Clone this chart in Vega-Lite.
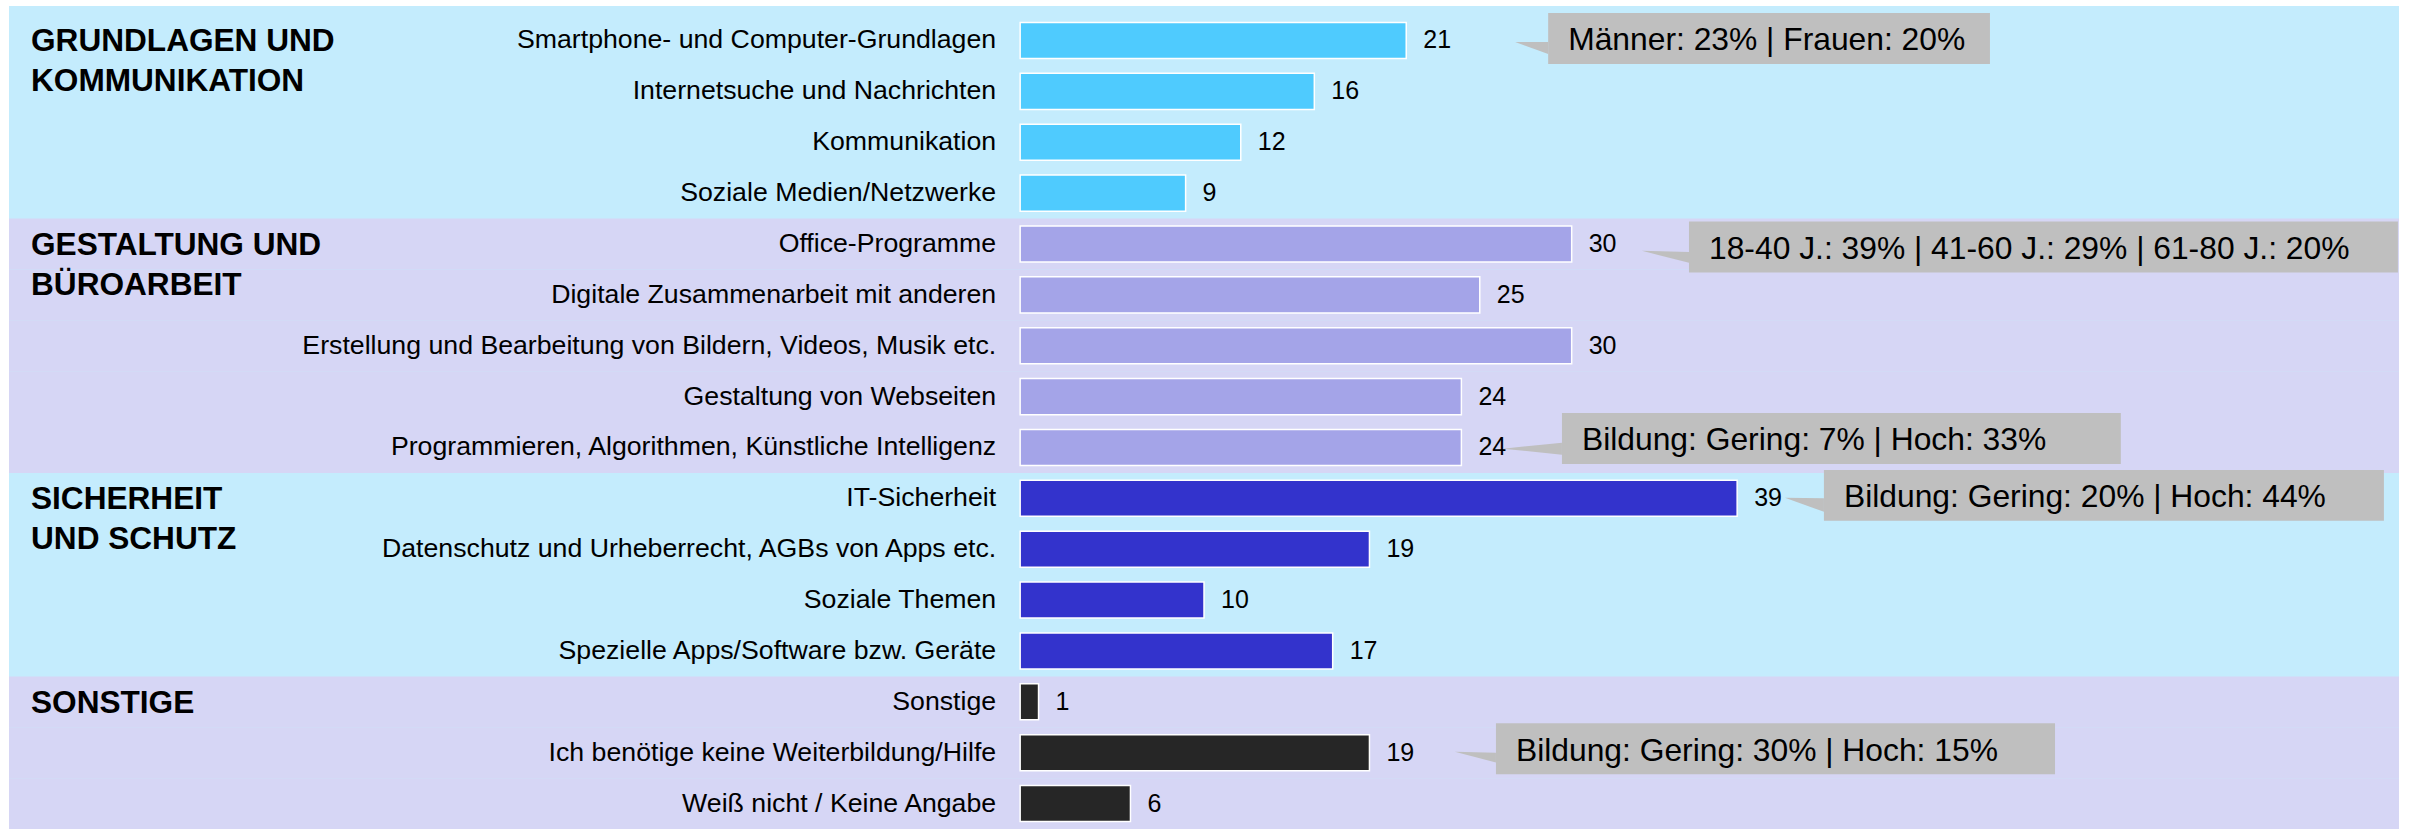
{
  "$schema": "https://vega.github.io/schema/vega-lite/v6.json",
  "width": 2390,
  "height": 823,
  "autosize": {"type": "none"},
  "padding": {"left": 9, "top": 6, "right": 11, "bottom": 0},
  "background": "#ffffff",
  "config": {"font": "Liberation Sans", "view": {"fill": "#C4ECFD", "stroke": null}},
  "datasets": {
    "items": [
      {"item": "Smartphone- und Computer-Grundlagen", "value": 21, "bereich": "Grundlagen"},
      {"item": "Internetsuche und Nachrichten", "value": 16, "bereich": "Grundlagen"},
      {"item": "Kommunikation", "value": 12, "bereich": "Grundlagen"},
      {"item": "Soziale Medien/Netzwerke", "value": 9, "bereich": "Grundlagen"},
      {"item": "Office-Programme", "value": 30, "bereich": "Gestaltung"},
      {"item": "Digitale Zusammenarbeit mit anderen", "value": 25, "bereich": "Gestaltung"},
      {"item": "Erstellung und Bearbeitung von Bildern, Videos, Musik etc.", "value": 30, "bereich": "Gestaltung"},
      {"item": "Gestaltung von Webseiten ", "value": 24, "bereich": "Gestaltung"},
      {"item": "Programmieren, Algorithmen, Künstliche Intelligenz", "value": 24, "bereich": "Gestaltung"},
      {"item": "IT-Sicherheit", "value": 39, "bereich": "Sicherheit"},
      {"item": "Datenschutz und Urheberrecht, AGBs von Apps etc.", "value": 19, "bereich": "Sicherheit"},
      {"item": "Soziale Themen", "value": 10, "bereich": "Sicherheit"},
      {"item": "Spezielle Apps/Software bzw. Geräte", "value": 17, "bereich": "Sicherheit"},
      {"item": "Sonstige", "value": 1, "bereich": "Sonstige"},
      {"item": "Ich benötige keine Weiterbildung/Hilfe", "value": 19, "bereich": "Sonstige"},
      {"item": "Weiß nicht / Keine Angabe", "value": 6, "bereich": "Sonstige"}
    ],
    "groups": [
      {"item": "Smartphone- und Computer-Grundlagen", "titel": "GRUNDLAGEN UND\nKOMMUNIKATION"},
      {"item": "Office-Programme", "titel": "GESTALTUNG UND\nBÜROARBEIT"},
      {"item": "IT-Sicherheit", "titel": "SICHERHEIT\nUND SCHUTZ"},
      {"item": "Sonstige", "titel": "SONSTIGE"}
    ]
  },
  "data": {"name": "items"},
  "encoding": {
    "y": {
      "field": "item",
      "type": "nominal",
      "sort": null,
      "axis": null,
      "scale": {
        "domain": [
          "Smartphone- und Computer-Grundlagen", "Internetsuche und Nachrichten", "Kommunikation", "Soziale Medien/Netzwerke",
          "Office-Programme", "Digitale Zusammenarbeit mit anderen", "Erstellung und Bearbeitung von Bildern, Videos, Musik etc.", "Gestaltung von Webseiten ", "Programmieren, Algorithmen, Künstliche Intelligenz",
          "IT-Sicherheit", "Datenschutz und Urheberrecht, AGBs von Apps etc.", "Soziale Themen", "Spezielle Apps/Software bzw. Geräte",
          "Sonstige", "Ich benötige keine Weiterbildung/Hilfe", "Weiß nicht / Keine Angabe"
        ],
        "paddingInner": 0,
        "paddingOuter": 0.0885,
        "align": 1
      }
    }
  },
  "layer": [
    {
      "transform": [{"filter": {"field": "bereich", "oneOf": ["Gestaltung", "Sonstige"]}}],
      "mark": {"type": "rect", "fill": "#D6D6F5"},
      "encoding": {
        "x": {"datum": -55, "type": "quantitative", "scale": {"domain": [-55, 75], "nice": false, "zero": false}, "axis": null},
        "x2": {"datum": 75}
      }
    },
    {
      "mark": {"type": "bar", "height": {"band": 0.71}, "stroke": "#ffffff", "strokeWidth": 1.5},
      "encoding": {
        "x": {"field": "value", "type": "quantitative", "axis": null},
        "x2": {"datum": 0},
        "color": {
          "field": "bereich",
          "type": "nominal",
          "legend": null,
          "scale": {"domain": ["Grundlagen", "Gestaltung", "Sicherheit", "Sonstige"], "range": ["#4FCBFE", "#A4A4E8", "#3333CC", "#262626"]}
        }
      }
    },
    {
      "mark": {"type": "text", "align": "right", "baseline": "middle", "dx": -24, "fontSize": 26.7, "color": "#000000"},
      "encoding": {
        "x": {"datum": 0, "type": "quantitative"},
        "text": {"field": "item"}
      }
    },
    {
      "mark": {"type": "text", "align": "left", "baseline": "middle", "dx": 17, "fontSize": 25, "color": "#000000"},
      "encoding": {
        "x": {"field": "value", "type": "quantitative"},
        "text": {"field": "value", "type": "quantitative"}
      }
    },
    {
      "data": {"name": "groups"},
      "mark": {"type": "text", "align": "left", "baseline": "alphabetic", "lineBreak": "\n", "lineHeight": 40, "dx": 22, "dy": 11, "fontSize": 31.6, "fontWeight": "bold", "color": "#000000"},
      "encoding": {
        "x": {"datum": -55, "type": "quantitative"},
        "text": {"field": "titel"}
      }
    },
    {
      "data": {"values": [{"item": "Smartphone- und Computer-Grundlagen", "note": "Männer: 23% | Frauen: 20%"}]},
      "layer": [
        {"mark": {"type": "rect", "fill": "#BFBFBF", "yOffset": -2, "y2Offset": -2}, "encoding": {"x": {"datum": 28.72, "type": "quantitative"}, "x2": {"datum": 52.75}}},
        {"mark": {"type": "point", "shape": "M0,0.05L-1.1,0.05L0,0.45Z", "size": 3600, "filled": true, "opacity": 1, "color": "#BFBFBF", "strokeWidth": 0}, "encoding": {"x": {"datum": 28.72, "type": "quantitative"}}},
        {"mark": {"type": "text", "align": "left", "baseline": "middle", "dx": 20, "dy": 0, "fontSize": 31.8, "color": "#000000"}, "encoding": {"x": {"datum": 28.72, "type": "quantitative"}, "text": {"field": "note"}}}
      ]
    },
    {
      "data": {"values": [{"item": "Office-Programme", "note": "18-40 J.: 39% | 41-60 J.: 29% | 61-80 J.: 20%"}]},
      "layer": [
        {"mark": {"type": "rect", "fill": "#BFBFBF", "yOffset": 3, "y2Offset": 3}, "encoding": {"x": {"datum": 36.38, "type": "quantitative"}, "x2": {"datum": 74.94}}},
        {"mark": {"type": "point", "shape": "M0,0.27L-1.57,0.23L0,0.63Z", "size": 3600, "filled": true, "opacity": 1, "color": "#BFBFBF", "strokeWidth": 0}, "encoding": {"x": {"datum": 36.38, "type": "quantitative"}}},
        {"mark": {"type": "text", "align": "left", "baseline": "middle", "dx": 20, "dy": 5, "fontSize": 31.8, "color": "#000000"}, "encoding": {"x": {"datum": 36.38, "type": "quantitative"}, "text": {"field": "note"}}}
      ]
    },
    {
      "data": {"values": [{"item": "Programmieren, Algorithmen, Künstliche Intelligenz", "note": "Bildung: Gering: 7% | Hoch: 33%"}]},
      "layer": [
        {"mark": {"type": "rect", "fill": "#BFBFBF", "yOffset": -9, "y2Offset": -9}, "encoding": {"x": {"datum": 29.47, "type": "quantitative"}, "x2": {"datum": 59.87}}},
        {"mark": {"type": "point", "shape": "M0,-0.16L-1.97,0.04L0,0.24Z", "size": 3600, "filled": true, "opacity": 1, "color": "#BFBFBF", "strokeWidth": 0}, "encoding": {"x": {"datum": 29.47, "type": "quantitative"}}},
        {"mark": {"type": "text", "align": "left", "baseline": "middle", "dx": 20, "dy": -7, "fontSize": 31.8, "color": "#000000"}, "encoding": {"x": {"datum": 29.47, "type": "quantitative"}, "text": {"field": "note"}}}
      ]
    },
    {
      "data": {"values": [{"item": "IT-Sicherheit", "note": "Bildung: Gering: 20% | Hoch: 44%"}]},
      "layer": [
        {"mark": {"type": "rect", "fill": "#BFBFBF", "yOffset": -3, "y2Offset": -3}, "encoding": {"x": {"datum": 43.72, "type": "quantitative"}, "x2": {"datum": 74.18}}},
        {"mark": {"type": "point", "shape": "M0,0L-1.3,-0.02L0,0.45Z", "size": 3600, "filled": true, "opacity": 1, "color": "#BFBFBF", "strokeWidth": 0}, "encoding": {"x": {"datum": 43.72, "type": "quantitative"}}},
        {"mark": {"type": "text", "align": "left", "baseline": "middle", "dx": 20, "dy": -1, "fontSize": 31.8, "color": "#000000"}, "encoding": {"x": {"datum": 43.72, "type": "quantitative"}, "text": {"field": "note"}}}
      ]
    },
    {
      "data": {"values": [{"item": "Ich benötige keine Weiterbildung/Hilfe", "note": "Bildung: Gering: 30% | Hoch: 15%"}]},
      "layer": [
        {"mark": {"type": "rect", "fill": "#BFBFBF", "yOffset": -4, "y2Offset": -4}, "encoding": {"x": {"datum": 25.88, "type": "quantitative"}, "x2": {"datum": 56.29}}},
        {"mark": {"type": "point", "shape": "M0,0L-1.37,-0.03L0,0.33Z", "size": 3600, "filled": true, "opacity": 1, "color": "#BFBFBF", "strokeWidth": 0}, "encoding": {"x": {"datum": 25.88, "type": "quantitative"}}},
        {"mark": {"type": "text", "align": "left", "baseline": "middle", "dx": 20, "dy": -2, "fontSize": 31.8, "color": "#000000"}, "encoding": {"x": {"datum": 25.88, "type": "quantitative"}, "text": {"field": "note"}}}
      ]
    }
  ]
}
